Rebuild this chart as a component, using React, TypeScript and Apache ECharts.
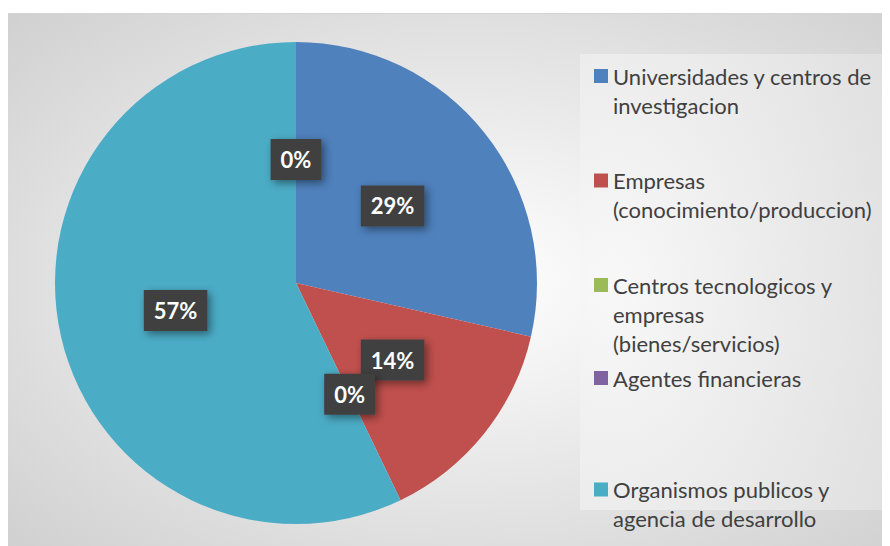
import React, { useEffect, useRef } from "react";
import * as echarts from "echarts";

// Categories in legend order
const categories = [
  "Universidades y centros de investigacion",
  "Empresas (conocimiento/produccion)",
  "Centros tecnologicos y empresas (bienes/servicios)",
  "Agentes financieras",
  "Organismos publicos y agencia de desarrollo",
];
// Wrapped legend lines
const legendLines = [
  ["Universidades y centros de", "investigacion"],
  ["Empresas", "(conocimiento/produccion)"],
  ["Centros tecnologicos y", "empresas", "(bienes/servicios)"],
  ["Agentes financieras"],
  ["Organismos publicos y", "agencia de desarrollo"],
];
// Values (counts) per category
const values = [2, 1, 0, 0, 4];
const colors = ["#4F81BD", "#C0504D", "#9BBB59", "#8064A2", "#4BACC6"];
// Order in which slices are drawn clockwise from 12 o'clock
const sliceOrder = [0, 1, 2, 4, 3];
// Legend icon centres (page y)
const legendIconY = [76, 180.5, 285, 378, 489.5];

export default function App() {
  const ref = useRef<HTMLDivElement>(null);
  useEffect(() => {
    if (!ref.current) return;
    const chart = echarts.init(ref.current, null, { renderer: "svg" });
    const font = "Lato";
    const lineH = 29;
    const legends = categories.map((name, i) => {
      const n = legendLines[i].length;
      return {
        data: [name],
        orient: "vertical" as const,
        left: 586,
        top: legendIconY[i] - 8 - ((2 * n - 1) * lineH) / 2,
        padding: 0,
        itemWidth: 14,
        itemHeight: 14,
        icon: "rect",
        selectedMode: false,
        formatter: () => "\n".repeat(n - 1) + legendLines[i].join("\n"),
        textStyle: {
          fontFamily: font,
          fontSize: 22,
          color: "#404040",
          lineHeight: lineH,
        },
      };
    });
    chart.setOption({
      animation: false,
      graphic: [
        {
          type: "rect",
          z: -10,
          silent: true,
          shape: { x: 0, y: 5, width: 882, height: 533 },
          style: {
            fill: {
              type: "radial",
              x: 0.52,
              y: 0.5,
              r: 1,
              colorStops: [
                { offset: 0, color: "#ffffff" },
                { offset: 1, color: "#bebebe" },
              ],
            },
          },
        },
        {
          type: "line",
          z: -9,
          silent: true,
          shape: { x1: 0, y1: 5.5, x2: 882, y2: 5.5 },
          style: { stroke: "#d4d4d4", lineWidth: 1 },
        },
        {
          type: "rect",
          z: -8,
          silent: true,
          shape: { x: 572, y: 46, width: 308, height: 456 },
          style: {
            fill: {
              type: "radial",
              x: 0.1,
              y: 0.5,
              r: 1.1,
              colorStops: [
                { offset: 0, color: "#f8f8f8" },
                { offset: 1, color: "#dedede" },
              ],
            },
          },
        },
      ],
      legend: legends,
      series: [
        {
          type: "pie",
          center: [288, 275],
          radius: 241,
          startAngle: 90,
          clockwise: true,
          minAngle: 0.0001,
          percentPrecision: 0,
          avoidLabelOverlap: false,
          labelLine: { show: false },
          label: {
            show: true,
            position: "inside",
            formatter: "{d}%",
            fontFamily: font,
            fontWeight: "bold",
            fontSize: 22,
            lineHeight: 22,
            color: "#ffffff",
            backgroundColor: "#404040",
            padding: [10, 10, 9, 10],
            shadowColor: "rgba(0,0,0,0.45)",
            shadowBlur: 8,
            shadowOffsetX: 3,
            shadowOffsetY: 3,
          },
          labelLayout: { hideOverlap: false },
          emphasis: { disabled: true },
          data: sliceOrder.map((k) => ({
            name: categories[k],
            value: values[k],
            itemStyle: { color: colors[k] },
          })),
        },
      ],
    });
    return () => chart.dispose();
  }, []);
  return <div ref={ref} style={{ width: 882, height: 538 }} />;
}
